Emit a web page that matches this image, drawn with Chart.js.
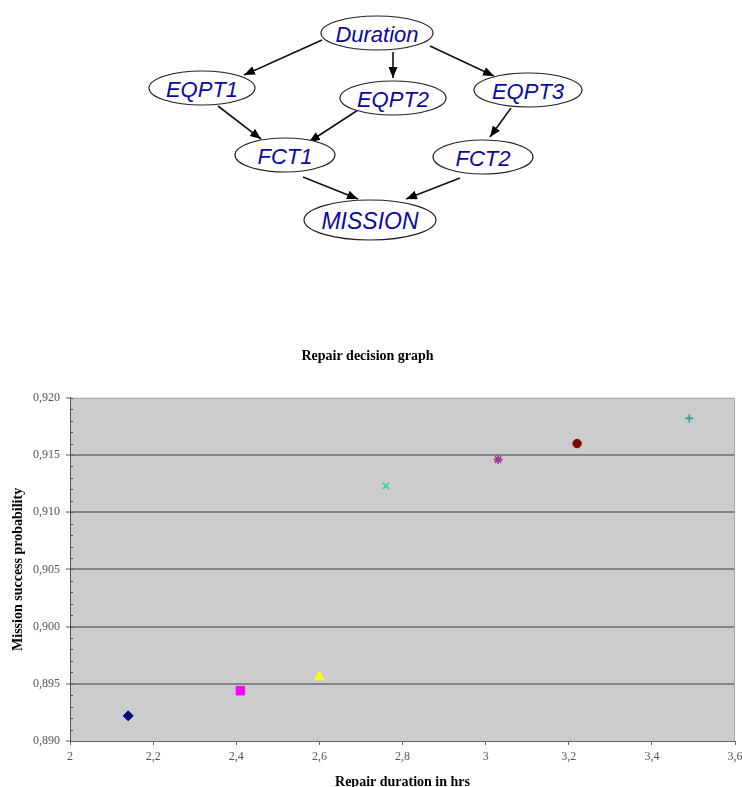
<!DOCTYPE html>
<html>
<head>
<meta charset="utf-8">
<title>Repair decision graph</title>
<style>
  html, body { margin: 0; padding: 0; background: #fff; width: 742px; height: 787px; overflow: hidden; }
  #reseau { position: absolute; left: 0; top: 0; }
  #zone { position: absolute; left: 0; top: 330px; width: 752px; height: 470px; }
</style>
<script src="https://cdn.jsdelivr.net/npm/chart.js@4.4.0/dist/chart.umd.min.js"></script>
</head>
<body>
<svg id="reseau" width="742" height="250" xmlns="http://www.w3.org/2000/svg">
  <defs>
    <marker id="fleche" markerWidth="11" markerHeight="9" refX="11" refY="4.5" orient="auto" markerUnits="userSpaceOnUse">
      <path d="M0,0 L11,4.5 L0,9 z" fill="#000"/>
    </marker>
  </defs>
</svg>
<div id="zone"><canvas id="graphe"></canvas></div>

<script>
// Données du graphe de décision (une série par point)
const durees = [2.14, 2.41, 2.60, 2.76, 3.03, 3.22, 3.49];
const probabilites = [0.8922, 0.8944, 0.8956, 0.9123, 0.9146, 0.9160, 0.9182];
const nomsSeries = ["Series1", "Series2", "Series3", "Series4", "Series5", "Series6", "Series7"];

// Marqueurs façon Excel
const formes = ["rectRot", "rect", "triangle", "crossRot", "star", "circle", "cross"];
const couleurs = ["#000080", "#ff00ff", "#ffff00", "#33cccc", "#993399", "#800000", "#339999"];
const tailles = [5, 6, 5.5, 4.5, 4.5, 4.2, 4];

// Réseau bayésien en haut de la page
const noeuds = [
  { id: "Duration", x: 377, y: 33, rx: 56, ry: 17 },
  { id: "EQPT1", x: 202, y: 88, rx: 53, ry: 17 },
  { id: "EQPT2", x: 393, y: 98, rx: 53, ry: 17 },
  { id: "EQPT3", x: 528, y: 90, rx: 54, ry: 17 },
  { id: "FCT1", x: 285, y: 155, rx: 50, ry: 17 },
  { id: "FCT2", x: 483, y: 157, rx: 50, ry: 17 },
  { id: "MISSION", x: 370, y: 220, rx: 66, ry: 20 }
];
const aretes = [
  [322, 40, 244, 75],
  [393, 52, 393, 78],
  [430, 46, 494, 76],
  [218, 106, 261, 139],
  [358, 110, 309, 142],
  [511, 108, 490, 137],
  [303, 177, 358, 199],
  [460, 178, 406, 199]
];

function dessinerReseau() {
  const svg = document.getElementById("reseau");
  const ns = "http://www.w3.org/2000/svg";

  aretes.forEach(a => {
    const l = document.createElementNS(ns, "line");
    l.setAttribute("x1", a[0]); l.setAttribute("y1", a[1]);
    l.setAttribute("x2", a[2]); l.setAttribute("y2", a[3]);
    l.setAttribute("stroke", "#111");
    l.setAttribute("stroke-width", "1.6");
    l.setAttribute("marker-end", "url(#fleche)");
    svg.appendChild(l);
  });

  noeuds.forEach(n => {
    const e = document.createElementNS(ns, "ellipse");
    e.setAttribute("cx", n.x); e.setAttribute("cy", n.y);
    e.setAttribute("rx", n.rx); e.setAttribute("ry", n.ry);
    e.setAttribute("fill", "#fff");
    e.setAttribute("stroke", "#222");
    e.setAttribute("stroke-width", "1.2");
    svg.appendChild(e);

    const t = document.createElementNS(ns, "text");
    t.setAttribute("x", n.x); t.setAttribute("y", n.y + 1);
    t.setAttribute("text-anchor", "middle");
    t.setAttribute("dominant-baseline", "central");
    t.setAttribute("font-family", "Liberation Sans, Arial, sans-serif");
    t.setAttribute("font-style", "italic");
    t.setAttribute("font-size", n.id === "MISSION" ? "23" : "22");
    t.setAttribute("fill", "#0a0aa0");
    t.textContent = n.id;
    svg.appendChild(t);
  });
}

// Formatage à la française (virgule décimale)
function virguleX(v) {
  return String(Math.round(v * 10) / 10).replace(".", ",");
}
function virguleY(v) {
  return v.toFixed(3).replace(".", ",");
}

// Fond gris de la zone de traçage + petites graduations
const fondExcel = {
  id: "fondExcel",
  beforeDraw(chart) {
    const a = chart.chartArea;
    const ctx = chart.ctx;
    ctx.save();
    ctx.fillStyle = "#cccccc";
    ctx.fillRect(a.left, a.top, a.right - a.left, a.bottom - a.top);
    ctx.restore();
  },
  afterDatasetsDraw(chart) {
    const a = chart.chartArea;
    const ctx = chart.ctx;
    const y = chart.scales.y;
    ctx.save();
    ctx.strokeStyle = "#a6a6a6";
    ctx.lineWidth = 1;
    ctx.beginPath();
    ctx.moveTo(a.left, a.top + 0.5);
    ctx.lineTo(a.right - 0.5, a.top + 0.5);
    ctx.lineTo(a.right - 0.5, a.bottom);
    ctx.stroke();

    ctx.strokeStyle = "#555";
    ctx.beginPath();
    for (let i = 0; i <= 30; i++) {
      const py = Math.round(y.getPixelForValue(0.89 + i * 0.001)) + 0.5;
      ctx.moveTo(a.left, py);
      ctx.lineTo(a.left + 3, py);
    }
    ctx.stroke();
    ctx.restore();
  }
};

const policeTicks = { family: "Liberation Serif, Times New Roman, serif", size: 12 };
const policeTitre = { family: "Liberation Serif, Times New Roman, serif", size: 14, weight: "bold" };

function creerGraphe() {
  const datasets = durees.map((d, i) => ({
    label: nomsSeries[i],
    data: [{ x: d, y: probabilites[i] }],
    pointStyle: formes[i],
    pointRadius: tailles[i],
    backgroundColor: couleurs[i],
    borderColor: couleurs[i],
    pointBorderWidth: (formes[i] === "crossRot" || formes[i] === "cross" || formes[i] === "star") ? 1.6 : 1,
    showLine: false
  }));

  new Chart(document.getElementById("graphe"), {
    type: "scatter",
    data: { datasets },
    options: {
      responsive: true,
      maintainAspectRatio: false,
      animation: false,
      layout: { padding: { left: 0, right: 17, top: 0, bottom: 0 } },
      plugins: {
        legend: { display: false },
        tooltip: { enabled: false },
        title: {
          display: true,
          text: "Repair decision graph",
          color: "#000",
          font: policeTitre,
          padding: { top: 18, bottom: 33 }
        }
      },
      scales: {
        x: {
          type: "linear",
          min: 2,
          max: 3.6,
          ticks: {
            stepSize: 0.2,
            autoSkip: false,
            maxRotation: 0,
            padding: 5,
            color: "#555",
            font: policeTicks,
            callback: v => virguleX(v)
          },
          grid: { drawOnChartArea: false, tickLength: 4, tickColor: "#666", tickWidth: 1 },
          border: { color: "#666", width: 1 },
          title: {
            display: true,
            text: "Repair duration in hrs",
            color: "#000",
            font: policeTitre,
            padding: { top: 0, bottom: 9 }
          },
          afterFit: s => { s.height = 59; }
        },
        y: {
          min: 0.89,
          max: 0.92,
          ticks: {
            stepSize: 0.005,
            padding: 6,
            color: "#555",
            font: policeTicks,
            callback: v => virguleY(v)
          },
          grid: {
            color: c => (c.tick && c.tick.value > 0.8901 && c.tick.value < 0.9199) ? "#858585" : "rgba(0,0,0,0)",
            lineWidth: 2,
            tickLength: 4,
            tickColor: "#555",
            tickWidth: 1
          },
          border: { color: "#555", width: 1 },
          title: {
            display: true,
            text: "Mission success probability",
            color: "#000",
            font: policeTitre,
            padding: { top: 10, bottom: 0 }
          },
          afterFit: s => { s.width = 70; }
        }
      }
    },
    plugins: [fondExcel]
  });
}

document.addEventListener("DOMContentLoaded", () => {
  dessinerReseau();
  creerGraphe();
});
</script>
</body>
</html>
